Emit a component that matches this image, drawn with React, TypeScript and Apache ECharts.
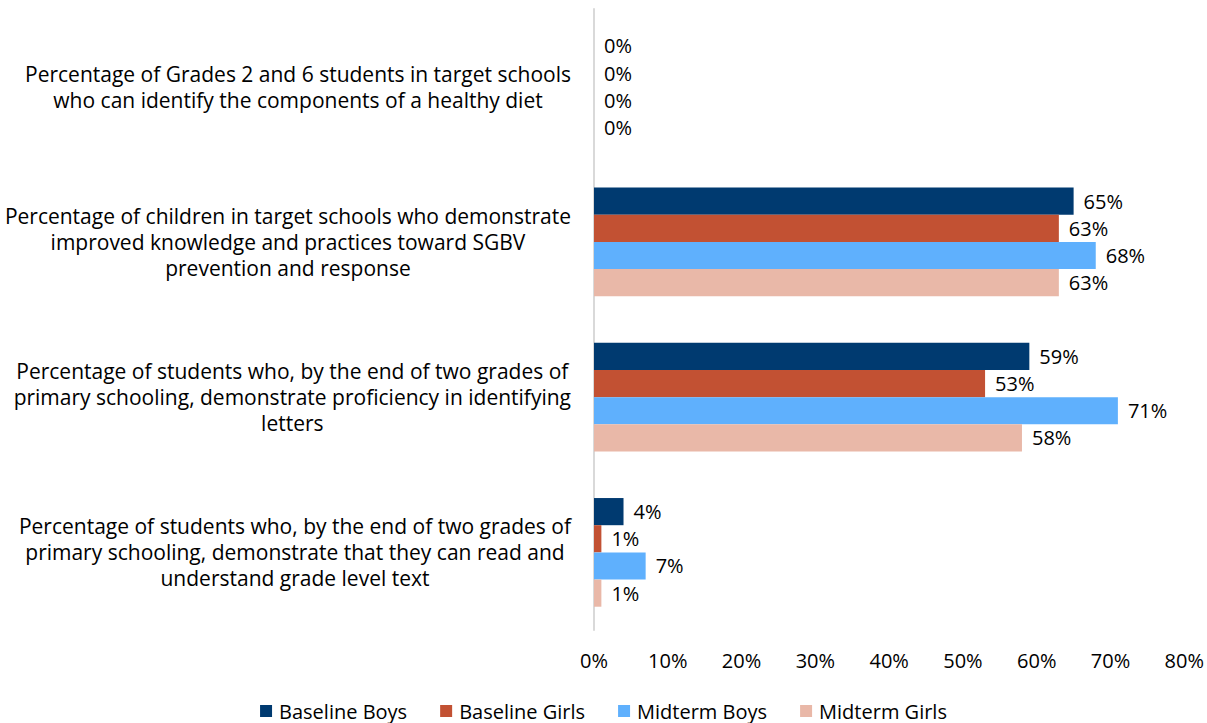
import React, { useEffect, useRef } from "react";
import * as echarts from "echarts";

const categories = [
  "Percentage of Grades 2 and 6 students in target schools\nwho can identify the components of a healthy diet",
  "Percentage of children in target schools who demonstrate\nimproved knowledge and practices toward SGBV\nprevention and response",
  "Percentage of students who, by the end of two grades of\nprimary schooling, demonstrate proficiency in identifying\nletters",
  "Percentage of students who, by the end of two grades of\nprimary schooling, demonstrate that they can read and\nunderstand grade level text",
];
const seriesNames = ["Baseline Boys", "Baseline Girls", "Midterm Boys", "Midterm Girls"];
const baselineBoys = [0, 65, 59, 4];
const baselineGirls = [0, 63, 53, 1];
const midtermBoys = [0, 68, 71, 7];
const midtermGirls = [0, 63, 58, 1];
const colors = ["#003A70", "#C25133", "#5FB0FD", "#E9B8A8"];

const FONT = "'Open Sans', 'Noto Sans', sans-serif";
const FS = 20;

export default function App() {
  const ref = useRef<HTMLDivElement>(null);
  useEffect(() => {
    if (!ref.current) return;
    const chart = echarts.init(ref.current, null, { renderer: "svg" });
    const values = [baselineBoys, baselineGirls, midtermBoys, midtermGirls];
    chart.setOption({
      animation: false,
      textStyle: { fontFamily: FONT },
      grid: { left: 594, right: 22, top: 9, bottom: 93, containLabel: false },
      legend: {
        top: 701,
        left: "center",
        icon: "rect",
        itemWidth: 12,
        itemHeight: 12,
        itemGap: 33,
        padding: 0,
        textStyle: { fontFamily: FONT, fontSize: FS, color: "#000", padding: [0, 0, 0, 2] },
        data: seriesNames,
      },
      xAxis: {
        type: "value",
        min: 0,
        max: 80,
        interval: 10,
        axisLine: { show: false },
        axisTick: { show: false },
        splitLine: { show: false },
        axisLabel: {
          formatter: "{value}%",
          fontFamily: FONT,
          fontSize: FS,
          color: "#000",
          margin: 20,
        },
      },
      yAxis: {
        type: "category",
        inverse: true,
        data: categories,
        axisLine: { show: true, lineStyle: { color: "#D9D9D9", width: 2 } },
        axisTick: { show: false },
        axisLabel: {
          margin: 23,
          align: "right",
          formatter: (v: string) =>
            v
              .split("\n")
              .map((l) => `{c|${l}}`)
              .join("\n"),
          rich: {
            c: {
              align: "center",
              fontFamily: FONT,
              fontSize: 21,
              lineHeight: 26,
              color: "#000",
            },
          },
        },
      },
      series: seriesNames.map((name, i) => ({
        name,
        type: "bar",
        data: values[i],
        barGap: "0%",
        barCategoryGap: "30%",
        itemStyle: { color: colors[i] },
        label: {
          show: true,
          position: "right",
          distance: 10,
          formatter: "{c}%",
          fontFamily: FONT,
          fontSize: FS,
          color: "#000",
        },
      })),
    });
    return () => chart.dispose();
  }, []);
  return <div ref={ref} style={{ width: 1207, height: 723, position: "absolute", left: 0, top: 0 }} />;
}
